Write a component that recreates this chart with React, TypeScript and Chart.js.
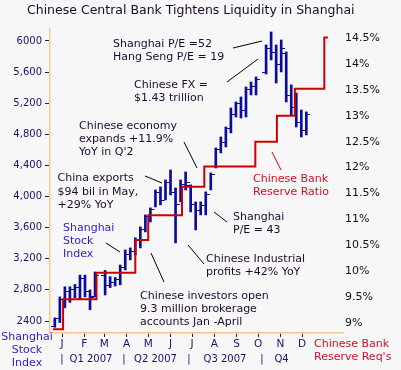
import React, { useEffect, useRef } from "react";
import { Chart, registerables } from "chart.js";

Chart.register(...registerables);

// ---- Data -------------------------------------------------------------
// Weekly Shanghai Composite bars; x = days since 1 Jan 2007 (week ending)
const weekDays = [-10, -3, 4, 11, 18, 25, 32, 39, 46,
  60, 67, 74, 81, 88, 95, 102, 109, 116, 123, 130, 137, 144, 151, 158, 165, 172, 179, 186, 193, 200, 207, 214, 221, 228, 235, 242, 249, 256, 263, 270,
  284, 291, 298, 305, 312, 319, 326, 333, 340];
const weekHighs = [2440, 2710, 2840, 2840, 2870, 2990, 2990, 2800, 3030,
  3050, 2970, 2960, 3120, 3314, 3340, 3470, 3610, 3764, 3854, 4085, 4124, 4214, 4342, 4111, 4214, 4317, 4150, 3931, 3931, 4060, 4304, 4625, 4766, 4895, 5139, 5216, 5280, 5409, 5473, 5537,
  5949, 6116, 5949, 6013, 5859, 5435, 5332, 5113, 5088];
const weekLows = [2320, 2380, 2570, 2640, 2700, 2680, 2710, 2545, 2710,
  2735, 2830, 2850, 2865, 3057, 3186, 3250, 3340, 3546, 3674, 3867, 3893, 3957, 4021, 3404, 3931, 4085, 3803, 3571, 3764, 3764, 4085, 4368, 4561, 4638, 4818, 5023, 5010, 5023, 5306, 5306,
  5576, 5756, 5460, 5602, 5216, 5049, 4895, 4766, 4792];
const weekOpens = [2330, 2430, 2680, 2780, 2800, 2830, 2950, 2780, 2720,
  2990, 2860, 2900, 2930, 3090, 3250, 3300, 3440, 3580, 3740, 3840, 4050, 3950, 4180, 4050, 3900, 4150, 4140, 3900, 3820, 3880, 4030, 4380, 4600, 4700, 4870, 5050, 5200, 5100, 5380, 5420,
  5600, 5900, 5850, 5700, 5840, 5300, 5150, 4950, 4850];
const weekCloses = [2430, 2680, 2780, 2800, 2830, 2950, 2780, 2700, 2990,
  2860, 2900, 2930, 3090, 3250, 3300, 3440, 3580, 3740, 3840, 4050, 3950, 4180, 4050, 3900, 4150, 4180, 3900, 3820, 3880, 4030, 4280, 4600, 4700, 4870, 5050, 5200, 5100, 5380, 5420, 5500,
  5900, 5850, 5700, 5900, 5300, 5150, 4950, 4850, 5050];

// Reserve requirement ratio (%), step changes; x = days since 1 Jan 2007
const reserveDays = [-12.5, 1.5, 48, 102, 120, 167, 198, 269, 299, 324, 365, 370];
const reserveRates = [8.88, 9.46, 9.97, 10.6, 11.08, 11.63, 12.02, 12.5, 13.0, 13.52, 14.51, 14.51];

// Axes
const priceTicks = [2400, 2800, 3200, 3600, 4000, 4400, 4800, 5200, 5600, 6000];
const priceTickLabels = ["2400", "2,800", "3,200", "3,600", "4,000", "4,400", "4,800", "5,200", "5,600", "6000"];
const rateTicks = [9, 9.5, 10, 10.5, 11, 11.5, 12, 12.5, 13, 13.5, 14, 14.5];
const rateTickLabels = ["9%", "9.5%", "10%", "10.5%", "11%", "11.5%", "12%", "12.5%", "13%", "13.5%", "14%", "14.5%"];
const monthStartDays = [0, 31, 59, 90, 120, 151, 181, 212, 243, 273, 304, 334];
const monthLabels = ["J", "F", "M", "A", "M", "J", "J", "A", "S", "O", "N", "D"];
const quarterLabels = ["Q1 2007", "Q2 2007", "Q3 2007", "Q4"];

const TITLE = "Chinese Central Bank Tightens Liquidity in Shanghai";

// ---- Styles / layout ---------------------------------------------------
const BG = "#f7f7f7";
const BAR = "#0c0c9c";
const RED = "#cc0000";
const RED_TEXT = "#d0102a";
const DARK = "#1e0a2e";
const BLUE_TEXT = "#3322cc";
const NAVY = "#141470";
const AXIS = "#f8c892";
const FONT = "'DejaVu Sans', Verdana, sans-serif";

const quarterCenters = [91, 155.5, 225, 281.5];
const quarterSeps = [62, 124, 189, 262];

type Note = { lines: string[]; x: number; y: number; color: string; align?: CanvasTextAlign };
const notes: Note[] = [
  { lines: ["Shanghai P/E =52", "Hang Seng P/E = 19"], x: 113, y: 44, color: DARK },
  { lines: ["Chinese FX =", "$1.43 trillion"], x: 134, y: 85, color: DARK },
  { lines: ["Chinese economy", "expands +11.9%", "YoY in Q'2"], x: 79, y: 126, color: DARK },
  { lines: ["China exports", "$94 bil in May,", "+29% YoY"], x: 57.5, y: 178.5, color: DARK },
  { lines: ["Shanghai", "Stock", "Index"], x: 63, y: 228, color: BLUE_TEXT },
  { lines: ["Shanghai", "P/E = 43"], x: 233, y: 217, color: DARK },
  { lines: ["Chinese Industrial", "profits +42% YoY"], x: 206, y: 259, color: DARK },
  { lines: ["Chinese investors open", "9.3 million brokerage", "accounts Jan -April"], x: 140, y: 296, color: DARK },
  { lines: ["Chinese Bank", "Reserve Ratio"], x: 253, y: 179, color: RED_TEXT },
  { lines: ["Shanghai", "Stock", "Index"], x: 27, y: 337, color: BLUE_TEXT, align: "center" },
  { lines: ["Chinese Bank", "Reserve Req's"], x: 314, y: 344, color: RED_TEXT },
];
const leaders: { p: number[]; color: string }[] = [
  { p: [233, 48, 262, 41], color: "#000" },
  { p: [227, 82, 258, 59], color: "#000" },
  { p: [184, 142, 197, 168], color: "#000" },
  { p: [145, 176, 162, 183], color: "#000" },
  { p: [106, 243, 120, 252], color: "#000" },
  { p: [214, 212, 227, 222], color: "#000" },
  { p: [188, 245, 204, 264], color: "#000" },
  { p: [151, 253, 164, 282], color: "#000" },
  { p: [272, 152, 281, 170], color: RED },
];

const decorPlugin = {
  id: "decor",
  afterDraw(chart: any) {
    const ctx: CanvasRenderingContext2D = chart.ctx;
    ctx.save();
    ctx.font = `12.5px ${FONT}`;
    ctx.fillStyle = "#1a0a24";
    ctx.textAlign = "left";
    ctx.textBaseline = "middle";
    ctx.fillText(TITLE, 27, 11);
    ctx.lineWidth = 1;
    leaders.forEach((l) => {
      ctx.strokeStyle = l.color;
      ctx.beginPath();
      ctx.moveTo(l.p[0], l.p[1]);
      ctx.lineTo(l.p[2], l.p[3]);
      ctx.stroke();
    });
    ctx.font = `11px ${FONT}`;
    notes.forEach((n) => {
      ctx.fillStyle = n.color;
      ctx.textAlign = n.align || "left";
      n.lines.forEach((s, i) => ctx.fillText(s, n.x, n.y + i * 13.3));
    });
    ctx.font = `10px ${FONT}`;
    ctx.fillStyle = NAVY;
    ctx.textAlign = "center";
    quarterLabels.forEach((q, i) => ctx.fillText(q, quarterCenters[i], 359));
    quarterSeps.forEach((x) => ctx.fillText("|", x, 359));
    ctx.restore();
  },
};

export default function App() {
  const ref = useRef<HTMLCanvasElement>(null);
  useEffect(() => {
    const canvas = ref.current!;
    const mkTick = (left: boolean) => {
      const c = document.createElement("canvas");
      c.width = 8;
      c.height = 1;
      const g = c.getContext("2d")!;
      g.fillStyle = BAR;
      g.fillRect(left ? 0 : 5, 0, 3, 1);
      return c;
    };
    const openTick = mkTick(true);
    const closeTick = mkTick(false);

    const chart = new Chart(canvas, {
      type: "bar",
      data: {
        datasets: [
          {
            type: "line",
            label: "Reserve ratio",
            data: reserveDays.map((d, i) => ({ x: d, y: reserveRates[i] })),
            yAxisID: "y2",
            xAxisID: "x",
            stepped: true,
            borderColor: RED,
            borderWidth: 2,
            pointRadius: 0,
            fill: false,
            order: 0,
          } as any,
          {
            type: "bar",
            label: "High-low",
            data: weekDays.map((d, i) => ({ x: d, y: [weekLows[i], weekHighs[i]] })),
            yAxisID: "y",
            xAxisID: "x",
            backgroundColor: BAR,
            borderWidth: 0,
            barThickness: 2,
            grouped: false,
            order: 2,
          } as any,
          {
            type: "line",
            label: "Open",
            data: weekDays.map((d, i) => ({ x: d, y: weekOpens[i] })),
            yAxisID: "y",
            xAxisID: "x",
            showLine: false,
            pointStyle: openTick,
            pointRadius: 3,
            order: 1,
          } as any,
          {
            type: "line",
            label: "Close",
            data: weekDays.map((d, i) => ({ x: d, y: weekCloses[i] })),
            yAxisID: "y",
            xAxisID: "x",
            showLine: false,
            pointStyle: closeTick,
            pointRadius: 3,
            order: 1,
          } as any,
        ],
      },
      options: {
        responsive: false,
        maintainAspectRatio: false,
        animation: false,
        events: [],
        layout: { padding: { top: 29, left: 0, right: 0, bottom: 0 } },
        plugins: { legend: { display: false }, tooltip: { enabled: false }, title: { display: false } },
        scales: {
          x: {
            type: "linear",
            position: "bottom",
            offset: false,
            min: -16.7,
            max: 391,
            afterBuildTicks: (s: any) => {
              s.ticks = monthStartDays.map((v) => ({ value: v }));
            },
            afterFit: (s: any) => {
              s.height = 37;
            },
            ticks: {
              autoSkip: false,
              maxRotation: 0,
              padding: 1,
              color: NAVY,
              font: { family: FONT, size: 10.5 },
              callback: (_v: any, i: number) => monthLabels[i],
            },
            grid: { drawOnChartArea: false, drawTicks: true, tickLength: 4, color: "#202050", offset: false },
            border: { color: AXIS, width: 1.5 },
          },
          y: {
            type: "linear",
            position: "left",
            min: 2246,
            max: 6154,
            afterBuildTicks: (s: any) => {
              s.ticks = priceTicks.map((v) => ({ value: v }));
            },
            afterFit: (s: any) => {
              s.width = 50;
            },
            ticks: {
              padding: 3,
              color: NAVY,
              font: { family: FONT, size: 10 },
              callback: (_v: any, i: number) => priceTickLabels[i],
            },
            grid: { drawOnChartArea: false, drawTicks: true, tickLength: 5, color: "#202050" },
            border: { color: AXIS, width: 1.5 },
          },
          y2: {
            type: "linear",
            position: "right",
            min: 8.807,
            max: 14.674,
            afterBuildTicks: (s: any) => {
              s.ticks = rateTicks.map((v) => ({ value: v }));
            },
            afterFit: (s: any) => {
              s.width = 58;
            },
            ticks: {
              padding: 2,
              color: "#111111",
              font: { family: FONT, size: 11 },
              callback: (_v: any, i: number) => rateTickLabels[i],
            },
            grid: { display: false, drawTicks: false, drawOnChartArea: false },
            border: { display: false },
          },
        },
      } as any,
      plugins: [decorPlugin],
    });
    return () => chart.destroy();
  }, []);

  return (
    <div style={{ position: "fixed", left: 0, top: 0, width: 401, height: 370, background: BG }}>
      <canvas ref={ref} width={401} height={370} style={{ display: "block", width: 401, height: 370 }} />
    </div>
  );
}
